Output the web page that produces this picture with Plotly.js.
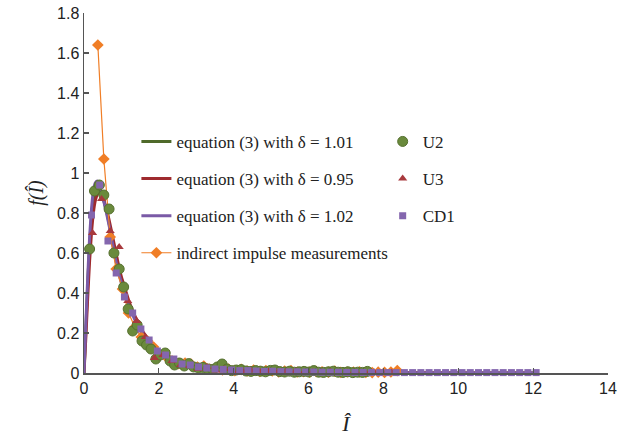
<!DOCTYPE html>
<html>
<head>
<meta charset="utf-8">
<script src="https://cdn.plot.ly/plotly-3.0.1.min.js"></script>
<style>
  html, body { margin: 0; padding: 0; background: #ffffff; }
  #chart { width: 620px; height: 442px; }
</style>
</head>
<body>
<div id="chart"></div>
<script>
// ---- Equation (3) curves ----
const eqX = [0,0.05,0.1,0.15,0.2,0.25,0.3,0.35,0.4,0.5,0.6,0.7,0.8,0.9,1.0,1.1,1.2,1.3,1.4,1.5,1.6,1.8,2.0,2.2,2.4,2.6,2.8,3.0,3.5,4,4.5,5,6,7,8,10,12];
const eq101Y = [0,0.22,0.45,0.64,0.78,0.87,0.92,0.94,0.93,0.88,0.81,0.72,0.62,0.53,0.46,0.40,0.34,0.30,0.26,0.22,0.19,0.14,0.105,0.08,0.065,0.05,0.04,0.032,0.02,0.013,0.009,0.006,0.003,0.0015,0.001,0.0003,0.0001];
const eq095Y = [0,0.18,0.38,0.56,0.70,0.80,0.86,0.89,0.90,0.88,0.82,0.74,0.65,0.56,0.48,0.42,0.36,0.31,0.27,0.23,0.20,0.15,0.11,0.085,0.068,0.053,0.042,0.034,0.021,0.014,0.01,0.007,0.0035,0.0018,0.001,0.0004,0.0001];
const eq102Y = [0,0.25,0.48,0.68,0.82,0.91,0.95,0.96,0.94,0.88,0.80,0.71,0.61,0.52,0.45,0.39,0.335,0.29,0.25,0.215,0.185,0.135,0.1,0.078,0.062,0.048,0.038,0.031,0.019,0.012,0.0085,0.0055,0.0028,0.0014,0.0009,0.0003,0.0001];

// ---- indirect impulse measurements ----
const indX = [0.37,0.53,0.70,0.86,1.03,1.19,1.36,1.53,1.70,1.86,2.03,2.20,2.36,2.53,2.70,2.86,3.03,3.20,3.36,3.53,3.70,3.86,4.03,4.20,4.36,4.53,4.70,4.86,5.03,5.20,5.36,5.53,5.70,5.86,6.03,6.20,6.36,6.53,6.70,6.86,7.03,7.20,7.36,7.53,7.70,7.86,8.03,8.20,8.37];
const indY = [1.64,1.07,0.68,0.52,0.42,0.30,0.23,0.18,0.16,0.13,0.09,0.08,0.06,0.047,0.05,0.045,0.03,0.035,0.02,0.025,0.015,0.02,0.012,0.018,0.01,0.015,0.008,0.012,0.01,0.006,0.009,0.012,0.005,0.007,0.004,0.008,0.006,0.004,0.009,0.003,0.005,0.004,0.006,0.003,0.002,0.004,0.003,0.005,0.012];

// ---- U2 ----
const u2X = [0.15,0.28,0.41,0.53,0.67,0.80,0.94,1.06,1.18,1.30,1.42,1.55,1.67,1.79,1.92,2.04,2.17,2.30,2.42,2.55,2.68,2.80,2.93,3.06,3.18,3.31,3.44,3.56,3.69,3.82,3.94,4.07,4.20,4.33,4.46,4.59,4.72,4.85,4.98,5.10,5.23,5.36,5.49,5.62,5.75,5.88,6.01,6.14,6.27,6.40,6.53,6.66,6.79,6.92,7.05,7.18,7.31,7.44,7.57];
const u2Y = [0.62,0.91,0.94,0.89,0.82,0.60,0.52,0.43,0.32,0.21,0.24,0.16,0.14,0.12,0.07,0.09,0.10,0.06,0.04,0.05,0.035,0.047,0.03,0.025,0.028,0.02,0.018,0.03,0.045,0.02,0.012,0.015,0.017,0.01,0.008,0.012,0.009,0.006,0.013,0.015,0.007,0.005,0.009,0.004,0.006,0.008,0.005,0.012,0.004,0.003,0.006,0.009,0.004,0.003,0.006,0.002,0.004,0.003,0.008];

// ---- U3 ----
const u3X = [0.23,0.47,0.70,0.94,1.17,1.41,1.64,1.88,2.11,2.35,2.58,2.82,3.05,3.29,3.52,3.76,3.99,4.23,4.46,4.70,4.93,5.17,5.40,5.64,5.87,6.11,6.34,6.58,6.81,7.05,7.28,7.52,7.75,7.99,8.22];
const u3Y = [0.70,0.87,0.71,0.63,0.36,0.26,0.18,0.075,0.09,0.06,0.04,0.035,0.02,0.03,0.012,0.02,0.006,0.01,0.012,0.005,0.008,0.004,0.006,0.007,0.003,0.005,0.004,0.006,0.002,0.004,0.003,0.002,0.004,0.002,0.003];

// ---- CD1 ----
const cd1X = [0.20,0.42,0.64,0.86,1.08,1.30,1.52,1.74,1.96,2.18,2.40,2.62,2.84,3.06,3.28,3.50,3.72,3.94,4.16,4.38,4.60,4.82,5.04,5.26,5.48,5.70,5.92,6.14,6.36,6.58,6.80,7.02,7.24,7.46,7.68,7.90,8.12,8.34,8.56,8.78,9.00,9.22,9.44,9.66,9.88,10.10,10.32,10.54,10.76,10.98,11.20,11.42,11.64,11.86,12.08];
const cd1Y = [0.79,0.94,0.66,0.50,0.38,0.30,0.22,0.165,0.11,0.09,0.07,0.045,0.04,0.03,0.025,0.02,0.018,0.015,0.012,0.012,0.01,0.008,0.009,0.007,0.006,0.006,0.005,0.005,0.004,0.004,0.004,0.003,0.003,0.003,0.003,0.002,0.002,0.002,0.002,0.002,0.002,0.002,0.002,0.002,0.002,0.002,0.002,0.002,0.002,0.002,0.002,0.002,0.002,0.002,0.002];

const names = {
  eq101: 'equation (3) with \u03b4 = 1.01',
  eq095: 'equation (3) with \u03b4 = 0.95',
  eq102: 'equation (3) with \u03b4 = 1.02',
  ind: 'indirect impulse measurements',
  u2: 'U2', u3: 'U3', cd1: 'CD1'
};

const GREEN_L = '#4f6a2a', RED_L = '#9e2a2e', PURPLE_L = '#7a5aa6', ORANGE = '#f07e26';
const GREEN_M = '#6a8a3c', RED_M = '#a8393d', PURPLE_M = '#8466ae';

const traces = [
  {x: eqX, y: eq101Y, mode: 'lines', name: names.eq101, line: {color: GREEN_L, width: 3, shape: 'spline', smoothing: 0.5}, legend: 'legend', legendgroup: 'a'},
  {x: eqX, y: eq095Y, mode: 'lines', name: names.eq095, line: {color: RED_L, width: 3, shape: 'spline', smoothing: 0.5}, legend: 'legend', legendgroup: 'b'},
  {x: eqX, y: eq102Y, mode: 'lines', name: names.eq102, line: {color: PURPLE_L, width: 3, shape: 'spline', smoothing: 0.5}, legend: 'legend', legendgroup: 'c'},
  {x: indX, y: indY, mode: 'lines+markers', name: names.ind, line: {color: ORANGE, width: 1.2}, marker: {symbol: 'diamond', size: 9, color: ORANGE}, legend: 'legend', legendgroup: 'd', cliponaxis: false},
  {x: u2X, y: u2Y, mode: 'markers', name: names.u2, marker: {symbol: 'circle', size: 10, color: GREEN_M, line: {color: '#56702f', width: 1}}, legend: 'legend2', legendgroup: 'e', cliponaxis: false},
  {x: u3X, y: u3Y, mode: 'markers', name: names.u3, marker: {symbol: 'triangle-up', size: 8, color: RED_M}, legend: 'legend2', legendgroup: 'f', cliponaxis: false},
  {x: cd1X, y: cd1Y, mode: 'markers', name: names.cd1, marker: {symbol: 'square', size: 7, color: PURPLE_M}, legend: 'legend2', legendgroup: 'g', cliponaxis: false}
];

const serif = '"Liberation Serif", "Times New Roman", serif';
const legendFont = {family: serif, size: 17, color: '#222'};

const layout = {
  width: 620, height: 442,
  margin: {l: 84, r: 12, t: 13, b: 69},
  paper_bgcolor: '#ffffff', plot_bgcolor: '#ffffff',
  font: {family: '"Liberation Sans", Arial, sans-serif', size: 16, color: '#222'},
  xaxis: {
    range: [0, 14], dtick: 2, tick0: 0,
    showgrid: false, zeroline: false,
    showline: true, linecolor: '#555', linewidth: 1.5,
    ticks: 'inside', ticklen: 5, tickcolor: '#555', tickwidth: 1.2,
    tickfont: {size: 16, color: '#222'},
    title: {text: '<i>\u00ce</i>', font: {family: serif, size: 22, color: '#222'}, standoff: 20}
  },
  yaxis: {
    range: [0, 1.8], dtick: 0.2, tick0: 0,
    showgrid: false, zeroline: false,
    showline: true, linecolor: '#555', linewidth: 1.5,
    ticks: 'inside', ticklen: 5, tickcolor: '#555', tickwidth: 1.2,
    tickfont: {size: 16, color: '#222'},
    title: {text: '<i>f(\u00ce)</i>', font: {family: serif, size: 20, color: '#222'}, standoff: 8}
  },
  legend: {
    x: 0.1, y: 0.692, xanchor: 'left', yanchor: 'top',
    bgcolor: 'rgba(0,0,0,0)', borderwidth: 0,
    font: legendFont, traceorder: 'grouped', tracegroupgap: 12,
    itemwidth: 30
  },
  legend2: {
    x: 0.57, y: 0.692, xanchor: 'left', yanchor: 'top',
    bgcolor: 'rgba(0,0,0,0)', borderwidth: 0,
    font: legendFont,
    traceorder: 'grouped', tracegroupgap: 12,
    itemwidth: 30
  },
  showlegend: true
};

Plotly.newPlot('chart', traces, layout, {displayModeBar: false, staticPlot: true});
</script>
</body>
</html>
